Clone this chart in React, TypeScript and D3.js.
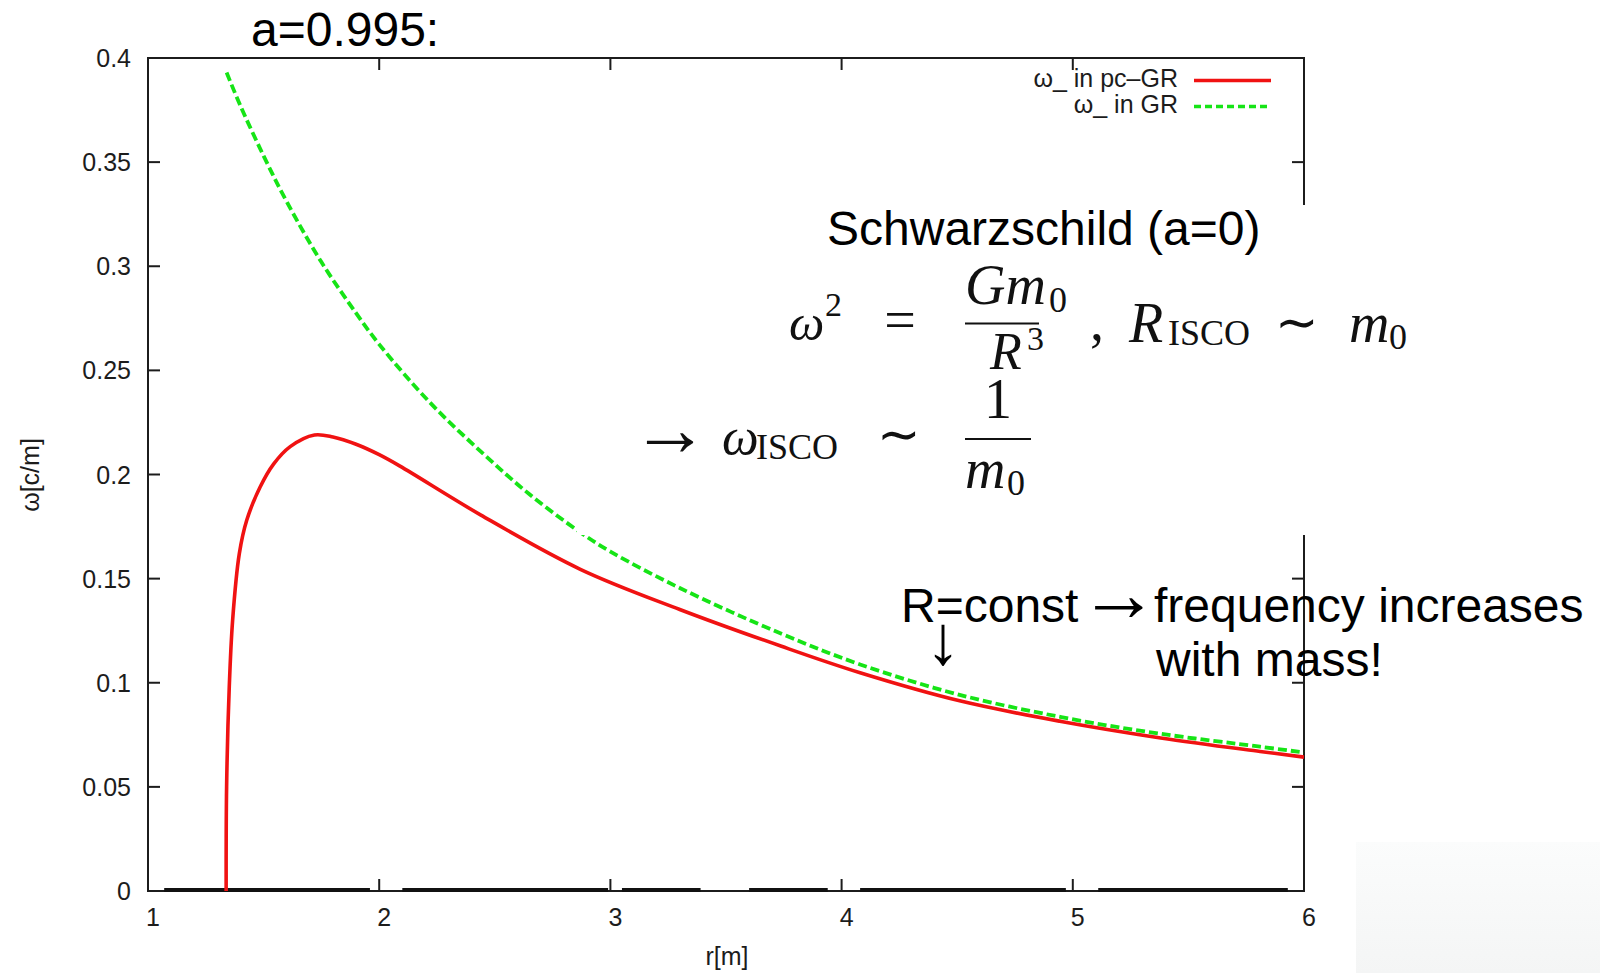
import React from "react";
import * as d3 from "d3";

// Orbital frequency ω_ versus radius r for a = 0.995
const X_TICKS = [1, 2, 3, 4, 5, 6];
const Y_TICKS = [0, 0.05, 0.1, 0.15, 0.2, 0.25, 0.3, 0.35, 0.4];
const Y_TICK_LABELS = ["0", "0.05", "0.1", "0.15", "0.2", "0.25", "0.3", "0.35", "0.4"];

// pseudo-complex GR curve (red, solid)
const PCGR_R = [1.338, 1.34, 1.3515, 1.366, 1.395, 1.427, 1.485, 1.543, 1.615, 1.72, 1.8, 1.9, 2.0, 2.09, 2.44, 2.87, 3.3, 3.74, 4.08, 4.515, 4.95, 5.38, 5.81, 6.0];
const PCGR_W = [0.0, 0.05, 0.098, 0.13, 0.162, 0.178, 0.194, 0.205, 0.2134, 0.219, 0.218, 0.2145, 0.2095, 0.204, 0.1805, 0.1545, 0.1352, 0.1175, 0.1048, 0.0912, 0.0814, 0.0735, 0.067, 0.0643];

// standard GR curve (green, dashed)
const GR_R = [1.34, 1.4, 1.5, 1.6, 1.75, 1.9, 2.0, 2.22, 2.44, 2.65, 2.87, 3.0, 3.3, 3.74, 4.08, 4.5, 4.95, 5.38, 5.81, 6.0];
const GR_W = [0.393, 0.377, 0.353, 0.331, 0.302, 0.2775, 0.2625, 0.2345, 0.211, 0.1905, 0.1722, 0.163, 0.1455, 0.1235, 0.1088, 0.0945, 0.0835, 0.0755, 0.0693, 0.0665];

// thick zero-axis pieces along the bottom frame (in r units)
const ZERO_AXIS_SEGMENTS: [number, number][] = [
  [1.07, 1.96], [2.1, 2.99], [3.05, 3.39], [3.6, 3.94], [4.08, 4.97], [5.11, 5.93],
];

const LEGEND_LABELS = ["ω_ in pc–GR", "ω_ in GR"];

const W = 1600;
const H = 973;
const SANS = "'Liberation Sans', Arial, sans-serif";
const SERIF = "'Liberation Serif', 'Times New Roman', serif";
const RED = "#f01212";
const GREEN = "#16e416";
const INK = "#1c1c1c";

export default function App() {
  const x = d3.scaleLinear().domain([1, 6]).range([148, 1304]);
  const y = d3.scaleLinear().domain([0, 0.4]).range([891, 58]);

  const line = d3
    .line<[number, number]>()
    .x((d) => x(d[0]))
    .y((d) => y(d[1]))
    .curve(d3.curveCatmullRom.alpha(0.5));

  const pcgr = line(PCGR_R.map((r, i) => [r, PCGR_W[i]] as [number, number])) || "";
  const gr = line(GR_R.map((r, i) => [r, GR_W[i]] as [number, number])) || "";

  const [x0, x1] = x.range();
  const [yb, yt] = y.range();
  const tick = 12;

  const mathSize = 56;

  return (
    <svg
      width={W}
      height={H}
      viewBox={`0 0 ${W} ${H}`}
      style={{ position: "absolute", left: 0, top: 0, background: "#fff" }}
    >
      <defs>
        <linearGradient id="corner" x1="0" y1="0" x2="0" y2="1">
          <stop offset="0" stopColor="#fbfcfc" />
          <stop offset="1" stopColor="#f4f5f5" />
        </linearGradient>
      </defs>
      <rect x={0} y={0} width={W} height={H} fill="#fff" />
      <rect x={1356} y={842} width={W - 1356} height={H - 842} fill="url(#corner)" />

      {/* frame */}
      <rect x={x0} y={yt} width={x1 - x0} height={yb - yt} fill="none" stroke={INK} strokeWidth={2} />

      {/* ticks on all four sides */}
      {X_TICKS.slice(1, -1).map((t) => (
        <g key={"xt" + t} stroke={INK} strokeWidth={2}>
          <line x1={x(t)} x2={x(t)} y1={yb} y2={yb - tick} />
          <line x1={x(t)} x2={x(t)} y1={yt} y2={yt + tick} />
        </g>
      ))}
      {Y_TICKS.slice(1, -1).map((t) => (
        <g key={"yt" + t} stroke={INK} strokeWidth={2}>
          <line x1={x0} x2={x0 + tick} y1={y(t)} y2={y(t)} />
          <line x1={x1} x2={x1 - tick} y1={y(t)} y2={y(t)} />
        </g>
      ))}

      {/* zero axis */}
      {ZERO_AXIS_SEGMENTS.map(([a, b], i) => (
        <line key={"za" + i} x1={x(a)} x2={x(b)} y1={y(0) - 1} y2={y(0) - 1} stroke="#111" strokeWidth={4} />
      ))}

      {/* tick labels */}
      {Y_TICKS.map((t, i) => (
        <text
          key={"yl" + t}
          x={131}
          y={y(t)}
          dy="0.36em"
          textAnchor="end"
          fontFamily={SANS}
          fontSize={25}
          fill={INK}
        >
          {Y_TICK_LABELS[i]}
        </text>
      ))}
      {X_TICKS.map((t) => (
        <text
          key={"xl" + t}
          x={x(t) + 5}
          y={917}
          dy="0.36em"
          textAnchor="middle"
          fontFamily={SANS}
          fontSize={25}
          fill={INK}
        >
          {t}
        </text>
      ))}

      {/* axis titles */}
      <text x={727} y={956} dy="0.36em" textAnchor="middle" fontFamily={SANS} fontSize={25} fill={INK}>
        r[m]
      </text>
      <text
        transform="translate(30,475) rotate(-90)"
        textAnchor="middle"
        dy="0.36em"
        fontFamily={SANS}
        fontSize={25}
        fill={INK}
      >
        ω[c/m]
      </text>

      {/* curves */}
      <path d={gr} fill="none" stroke={GREEN} strokeWidth={3.8} strokeDasharray="9,4" />
      <path d={pcgr} fill="none" stroke={RED} strokeWidth={3.6} strokeLinejoin="round" />

      {/* legend */}
      <text x={1178} y={87} textAnchor="end" fontFamily={SANS} fontSize={25} fill={INK}>
        {LEGEND_LABELS[0]}
      </text>
      <line x1={1194} x2={1271} y1={80.5} y2={80.5} stroke={RED} strokeWidth={3.5} />
      <text x={1178} y={113} textAnchor="end" fontFamily={SANS} fontSize={25} fill={INK}>
        {LEGEND_LABELS[1]}
      </text>
      <line x1={1194} x2={1271} y1={106.5} y2={106.5} stroke={GREEN} strokeWidth={3.5} strokeDasharray="7,4" />

      {/* white panel behind the Schwarzschild formulas */}
      <rect x={577} y={205} width={759} height={330} fill="#fff" />

      {/* headline */}
      <text x={251} y={46} fontFamily={SANS} fontSize={48} fill="#000">
        a=0.995:
      </text>

      <text x={827} y={245} fontFamily={SANS} fontSize={48} fill="#000">
        Schwarzschild (a=0)
      </text>

      {/* ω² = G m0 / R³ , R_ISCO ~ m0 */}
      <g fill="#111" fontFamily={SERIF}>
        <text x={789} y={340} fontSize={50} fontStyle="italic">ω</text>
        <text x={825} y={316} fontSize={34}>2</text>
        <text x={900} y={339} fontSize={mathSize} textAnchor="middle">=</text>
        <text x={965} y={304} fontSize={mathSize} fontStyle="italic">Gm</text>
        <text x={1049} y={312} fontSize={36}>0</text>
        <line x1={965} x2={1039} y1={323.5} y2={323.5} stroke="#111" strokeWidth={2.2} />
        <text x={990} y={369} fontSize={52} fontStyle="italic">R</text>
        <text x={1027} y={350} fontSize={34}>3</text>
        <text x={1090} y={340} fontSize={mathSize}>,</text>
        <text x={1129} y={342} fontSize={mathSize} fontStyle="italic">R</text>
        <text x={1168} y={345} fontSize={36}>ISCO</text>
        <text x={1297} y={340} fontSize={52} textAnchor="middle">∼</text>
        <text x={1349} y={342} fontSize={mathSize} fontStyle="italic">m</text>
        <text x={1389} y={349} fontSize={36}>0</text>
      </g>

      {/* → ω_ISCO ~ 1 / m0 */}
      <g fill="#111" fontFamily={SERIF}>
        <text x={670} y={455} fontSize={78} textAnchor="middle">→</text>
        <text x={722} y={454} fontSize={52} fontStyle="italic">ω</text>
        <text x={756} y={459} fontSize={36}>ISCO</text>
        <text x={899} y={452} fontSize={52} textAnchor="middle">∼</text>
        <text x={998} y={418} fontSize={mathSize} textAnchor="middle">1</text>
        <line x1={965} x2={1031} y1={439} y2={439} stroke="#111" strokeWidth={2.2} />
        <text x={965} y={488} fontSize={mathSize} fontStyle="italic">m</text>
        <text x={1007} y={495} fontSize={36}>0</text>
      </g>

      {/* R = const annotation */}
      <g fill="#000" fontFamily={SANS} fontSize={48}>
        <text x={901} y={622}>R=const</text>
        <text x={1119} y={621} fontSize={80} textAnchor="middle" fontFamily={SERIF}>→</text>
        <text x={1154} y={622}>frequency increases</text>
        <text x={1156} y={676}>with mass!</text>
        <text x={943} y={664} fontSize={70} textAnchor="middle" fontFamily={SERIF}>↓</text>
      </g>
    </svg>
  );
}
